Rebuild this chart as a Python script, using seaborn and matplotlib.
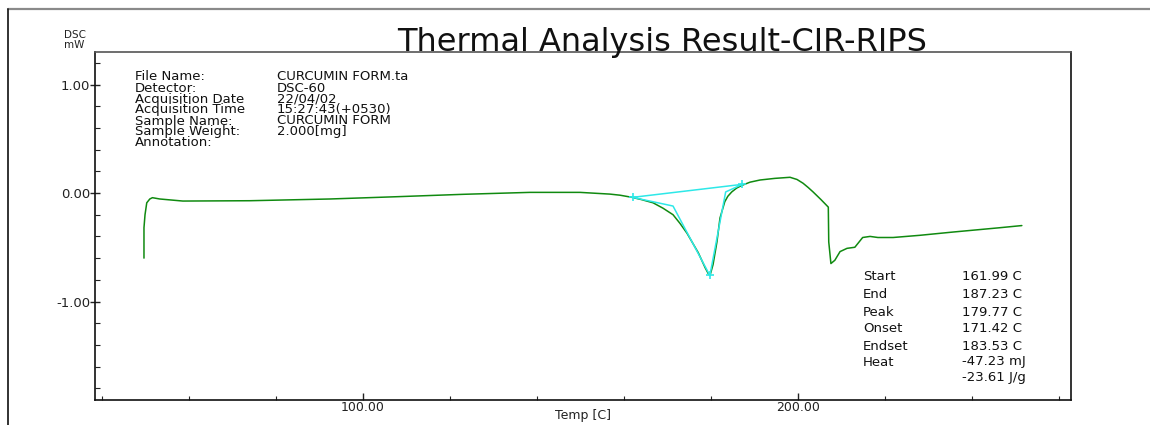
import matplotlib
matplotlib.use("Agg")
import matplotlib.pyplot as plt
from matplotlib.lines import Line2D
from matplotlib.ticker import MultipleLocator, FixedLocator
import seaborn as sns
import pandas as pd

# ---------------- data ----------------
temp_c = [49.66, 49.66, 49.9, 50.3, 51.0, 51.6, 53.3, 58.6, 74.0, 92.4, 107.8,
          123.0, 138.4, 149.9, 156.8, 159.1, 161.9, 164.0, 166.7, 169.0, 171.3,
          172.9, 174.5, 175.8, 177.1, 178.7, 179.5, 179.8, 180.5, 181.4, 182.1,
          183.2, 183.9, 184.8, 185.9, 187.1, 189.0, 191.3, 194.7, 198.2, 199.8,
          201.2, 202.4, 203.5, 205.3, 207.0, 207.1, 207.6, 208.5, 209.7, 211.3,
          213.1, 214.9, 216.6, 218.4, 221.9, 228.0, 235.6, 246.4, 251.5]
dsc_mw = [-0.60, -0.32, -0.20, -0.09, -0.055, -0.043, -0.055, -0.074, -0.071,
          -0.055, -0.034, -0.012, 0.006, 0.006, -0.01, -0.02, -0.04, -0.06, -0.09,
          -0.14, -0.20, -0.28, -0.37, -0.46, -0.55, -0.69, -0.75, -0.76, -0.66,
          -0.45, -0.23, -0.08, -0.03, 0.01, 0.045, 0.07, 0.10, 0.12, 0.135, 0.145,
          0.125, 0.09, 0.05, 0.01, -0.06, -0.13, -0.45, -0.65, -0.62, -0.54,
          -0.51, -0.50, -0.41, -0.40, -0.41, -0.41, -0.39, -0.36, -0.32, -0.30]

# analysis construction lines (baseline + tangents)
cyan_temp = [161.99, 171.3, 179.77, 183.4, 187.23, 161.99]
cyan_dsc = [-0.04, -0.12, -0.76, 0.01, 0.08, -0.04]
marker_temp = [161.99, 179.77, 187.23]
marker_dsc = [-0.04, -0.76, 0.08]

x_major = [100.0, 200.0]
x_tick_labels = ["100.00", "200.00"]
y_major = [1.0, 0.0, -1.0]
y_tick_labels = ["1.00", "0.00", "-1.00"]

title = "Thermal Analysis Result-CIR-RIPS"
x_label = "Temp [C]"
info_labels = ["File Name:", "Detector:", "Acquisition Date", "Acquisition Time",
               "Sample Name:", "Sample Weight:", "Annotation:"]
info_values = ["CURCUMIN FORM.ta", "DSC-60", "22/04/02", "15:27:43(+0530)",
               "CURCUMIN FORM", "2.000[mg]", ""]
result_labels = ["Start", "End", "Peak", "Onset", "Endset", "Heat", ""]
result_values = ["161.99 C", "187.23 C", "179.77 C", "171.42 C", "183.53 C",
                 "-47.23 mJ", "-23.61 J/g"]

# ---------------- figure ----------------
sns.set_style("white")
plt.rcParams["font.family"] = ["DejaVu Sans"]

W, H = 1150, 425
fig = plt.figure(figsize=(W / 100, H / 100), dpi=100)


def fx(px):
    return px / W


def fy(py):
    return 1 - py / H


ax = fig.add_axes([fx(95), fy(400), fx(1071) - fx(95), fy(52) - fy(400)])

df = pd.DataFrame({"temp": temp_c, "dsc": dsc_mw})
sns.lineplot(data=df, x="temp", y="dsc", sort=False, estimator=None,
             color="#108a10", linewidth=1.1, ax=ax)
sns.lineplot(x=cyan_temp, y=cyan_dsc, sort=False, estimator=None,
             color="#2ee8e8", linewidth=1.1, ax=ax)
ax.plot(marker_temp, marker_dsc, linestyle="none", marker="+",
        color="#2ee8e8", markersize=6, markeredgewidth=1.2)

ax.set_xlim(38.4, 262.8)
ax.set_ylim(-1.908, 1.30)
ax.set_xlabel("")
ax.set_ylabel("")

ax.xaxis.set_major_locator(FixedLocator(x_major))
ax.set_xticklabels(x_tick_labels)
ax.xaxis.set_minor_locator(MultipleLocator(20))
ax.yaxis.set_major_locator(FixedLocator(y_major))
ax.set_yticklabels(y_tick_labels)
ax.yaxis.set_minor_locator(MultipleLocator(0.2))

ax.tick_params(axis="x", which="major", direction="in", length=5, width=1,
               pad=1, labelsize=9, colors="#222222", bottom=True, top=False)
ax.tick_params(axis="x", which="minor", direction="in", length=3, width=0.8,
               bottom=True, top=False, color="#222222")
ax.tick_params(axis="y", which="major", direction="inout", length=7, width=1,
               pad=0, labelsize=9.5, colors="#222222", left=True, right=False)
ax.tick_params(axis="y", which="minor", direction="in", length=3.5, width=0.8,
               left=True, right=False, color="#222222")

for side in ["left", "right", "top", "bottom"]:
    ax.spines[side].set_visible(True)
    ax.spines[side].set_color("#111111")
    ax.spines[side].set_linewidth(1.2)
ax.spines["top"].set_color("#555555")

# outer frame lines
fig.add_artist(Line2D([fx(8), 1.0], [fy(9), fy(9)], color="#8a8a8a", linewidth=1.6))
fig.add_artist(Line2D([fx(8), fx(8)], [fy(9), 0.0], color="#222222", linewidth=1.3))

# title and axis labels
fig.text(fx(662), fy(51), title, fontsize=23, ha="center", va="baseline",
         color="#111111")
fig.text(fx(64), fy(35), "DSC", fontsize=7.5, ha="left", va="center", color="#222222")
fig.text(fx(64), fy(45), "mW", fontsize=7.5, ha="left", va="center", color="#222222")
fig.text(fx(583), fy(415), x_label, fontsize=9, ha="center", va="center",
         color="#222222")

# info block
info_y = [77, 88, 99, 110, 121, 132, 143]
for lab, val, yy in zip(info_labels, info_values, info_y):
    fig.text(fx(135), fy(yy), lab, fontsize=9.5, ha="left", va="center",
             color="#111111")
    fig.text(fx(277), fy(yy), val, fontsize=9.5, ha="left", va="center",
             color="#111111")

# results table
res_y = [277, 294, 312, 329, 346, 362, 378]
for lab, val, yy in zip(result_labels, result_values, res_y):
    fig.text(fx(863), fy(yy), lab, fontsize=9.5, ha="left", va="center",
             color="#111111")
    fig.text(fx(962), fy(yy), val, fontsize=9.5, ha="left", va="center",
             color="#111111")

fig.savefig("out.png", dpi=100, facecolor="white")
